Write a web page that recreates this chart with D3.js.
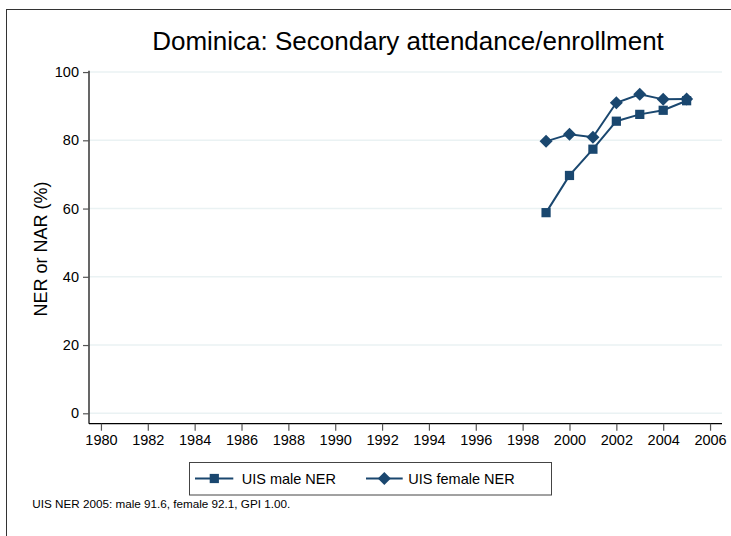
<!DOCTYPE html>
<html>
<head>
<meta charset="utf-8">
<script src="https://cdn.jsdelivr.net/npm/d3@7"></script>
<style>
  body { margin: 0; background: #fff; }
  svg { display: block; font-family: "Liberation Sans", Arial, sans-serif; }
</style>
</head>
<body>
<svg id="chart" width="731" height="536"></svg>
<script>
const years = [1999, 2000, 2001, 2002, 2003, 2004, 2005];
const maleNER = [58.8, 69.7, 77.4, 85.6, 87.6, 88.8, 91.6];
const femaleNER = [79.7, 81.8, 80.9, 91.0, 93.5, 92.0, 92.1];
const xTicks = [1980, 1982, 1984, 1986, 1988, 1990, 1992, 1994, 1996, 1998, 2000, 2002, 2004, 2006];
const yTicks = [0, 20, 40, 60, 80, 100];
const seriesNames = ["UIS male NER", "UIS female NER"];
const titleText = "Dominica: Secondary attendance/enrollment";
const yLabel = "NER or NAR (%)";
const noteText = "UIS NER 2005: male 91.6, female 92.1, GPI 1.00.";

const color = "#1a476f";
const svg = d3.select("#chart");

// outer frame
svg.append("rect").attr("x", 6.5).attr("y", 9.5).attr("width", 740).attr("height", 540)
  .attr("fill", "none").attr("stroke", "#333").attr("stroke-width", 1);

const L = 89, R = 722, T = 70.7, B = 423.7;
const x = d3.scaleLinear().domain([1979.49, 2006.51]).range([L, R]);
const y = d3.scaleLinear().domain([-3.05, 100.4]).range([B, T]);

// gridlines
svg.append("g").selectAll("line").data(yTicks).join("line")
  .attr("x1", L).attr("x2", R).attr("y1", d => y(d)).attr("y2", d => y(d))
  .attr("stroke", "#eaf2f3").attr("stroke-width", 1.5);

// axes
const xAxis = svg.append("g").attr("transform", `translate(0,${B})`)
  .call(d3.axisBottom(x).tickValues(xTicks).tickFormat(d3.format("d")).tickSize(7).tickPadding(4).tickSizeOuter(0));
const yAxis = svg.append("g").attr("transform", `translate(${L},0)`)
  .call(d3.axisLeft(y).tickValues(yTicks).tickSize(6).tickPadding(4).tickSizeOuter(0));
[xAxis, yAxis].forEach(g => {
  g.select(".domain").attr("stroke", "#000").attr("stroke-width", 1.2);
  g.selectAll(".tick line").attr("stroke", "#555").attr("stroke-width", 1.2);
  g.selectAll(".tick text").attr("fill", "#000").style("font-size", "14.5px")
    .style("font-family", '"Liberation Sans", Arial, sans-serif');
});
xAxis.select(".domain").attr("d", `M${L},0H${R}`);
yAxis.select(".domain").attr("d", `M0,${T}V${B}`);

// lines
const line = d3.line().x(d => x(d[0])).y(d => y(d[1]));
const male = years.map((yr, i) => [yr, maleNER[i]]);
const female = years.map((yr, i) => [yr, femaleNER[i]]);
[male, female].forEach(data => {
  svg.append("path").datum(data).attr("d", line)
    .attr("fill", "none").attr("stroke", color).attr("stroke-width", 2);
});

const sq = d3.symbol().type(d3.symbolSquare).size(85);
const diamond = "M0,-6.5L6.5,0L0,6.5L-6.5,0Z";
svg.append("g").selectAll("path").data(male).join("path")
  .attr("transform", d => `translate(${x(d[0])},${y(d[1])})`)
  .attr("d", sq).attr("fill", color);
svg.append("g").selectAll("path").data(female).join("path")
  .attr("transform", d => `translate(${x(d[0])},${y(d[1])})`)
  .attr("d", diamond).attr("fill", color);

// title
svg.append("text").attr("x", 408).attr("y", 50).attr("text-anchor", "middle")
  .style("font-size", "26px").attr("fill", "#000").text(titleText);

// y label
svg.append("text").attr("transform", "translate(46.5,249) rotate(-90)")
  .attr("text-anchor", "middle").style("font-size", "18px").attr("fill", "#000").text(yLabel);

// legend
svg.append("rect").attr("x", 189.5).attr("y", 462.5).attr("width", 362).attr("height", 32.5)
  .attr("fill", "#fff").attr("stroke", "#444").attr("stroke-width", 1);
const legItems = [
  { x1: 195, x2: 233.3, mx: 214.3, tx: 241.7, shape: "sq" },
  { x1: 366, x2: 402.7, mx: 384.3, tx: 408.3, shape: "di" }
];
const ly = 478.5;
legItems.forEach((it, i) => {
  svg.append("line").attr("x1", it.x1).attr("x2", it.x2).attr("y1", ly).attr("y2", ly)
    .attr("stroke", color).attr("stroke-width", 2);
  svg.append("path").attr("transform", `translate(${it.mx},${ly})`)
    .attr("d", it.shape === "sq" ? sq : diamond).attr("fill", color);
  svg.append("text").attr("x", it.tx).attr("y", ly + 5.2).style("font-size", "14.5px")
    .attr("fill", "#000").text(seriesNames[i]);
});

// note
svg.append("text").attr("x", 32.3).attr("y", 507.5).style("font-size", "11.7px")
  .attr("fill", "#000").text(noteText);
</script>
</body>
</html>
